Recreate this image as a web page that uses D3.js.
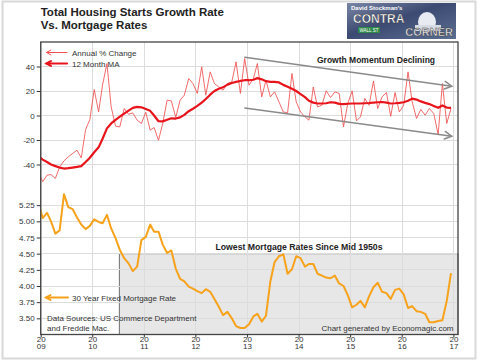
<!DOCTYPE html>
<html>
<head>
<meta charset="utf-8">
<script src="https://cdnjs.cloudflare.com/ajax/libs/d3/7.8.5/d3.min.js"></script>
<style>
body { margin: 0; background: #fff; }
svg { display: block; font-family: "Liberation Sans", Arial, sans-serif; }
.grid line { stroke: #dcdcdc; stroke-width: 1; shape-rendering: crispEdges; }
.axis text { font-size: 8px; fill: #333; }
.axis path { display: none; }
.axis line { stroke: #333; }
.note { font-size: 8px; fill: #333; }
</style>
</head>
<body>
<div class="chart"></div>
<script>
// Monthly series, Dec 2008 .. Dec 2016 (first point sits just left of the axis)
var housing_pct = [-46,
    -54, -48.7, -48.2, -51.4, -42, -37, -33.8, -31, -28.3, -34.6, -11.4, -3.3,
    21.2, 2.9, 25, 42.4, 7, -8.7, -9.3, 5.7, 1, 2.1, -3.8, -6.5,
    2.7, -12, -9.8, -20.2, -6.5, 12.5, 11.9, -1.6, 12.5, 16.6, 30.2, 26.1,
    18, 39.7, 16.6, 35.6, 26.1, 23.3, 20.7, 26.1, 27.4, 43.8, 18, 46.5,
    24.7, 30.2, 42.4, 15.2, 28.8, 15.2, 19.3, 11.1, 2.9, 2.1, 34.3, 11.1,
    2.9, -1.1, -3.8, 23.3, 7, 8.4, 20.1, 14.7, 19.3, 18, -9.3, 9.8,
    20.1, -4.4, -1.1, 13.9, 8.4, 28.2, 5.7, 15.2, 18.8, -0.6, 18.8, 2.9,
    8.4, 35.6, 11.1, -2.4, 4.9, 0.2, 5.7, 1.6, -15.5, 26.1, -6.5, 5.7];

var housing_ma = [-33.2,
    -36, -38, -40, -41.3, -42.5, -43.3, -43, -42.5, -42, -41.3, -38, -34.5,
    -30, -26, -19, -10.5, -6.5, -3.5, -1, 1.5, 4, 6.2, 7, 6.7,
    5.3, 3.8, 0, -4.7, -4.8, -3.5, -2.3, -2.5, -1.5, 0.5, 3.5, 5.5,
    7.8, 10.5, 13.5, 17, 20, 21.8, 23, 25.2, 26.5, 27.4, 28.2, 28.8,
    28.8, 29.2, 30.5, 29.5, 28, 27.5, 27.4, 27, 25, 23.5, 21.8, 20,
    17.5, 15, 12, 10.5, 9.8, 9.8, 10, 10.8, 10.5, 9.5, 9.3, 9.6,
    9.8, 9.8, 9.8, 10, 10.2, 10.5, 10.8, 11, 10.5, 9.8, 10, 10.3,
    10.8, 12, 13.8, 13, 11.5, 10.3, 9.3, 7.8, 6.3, 8.2, 6.5, 6.2];

var mortgage_rate = [5.29,
    5.05, 5.13, 5.00, 4.81, 4.86, 5.42, 5.22, 5.19, 5.06, 4.95, 4.88, 4.93,
    5.03, 4.99, 4.97, 5.10, 4.89, 4.74, 4.56, 4.43, 4.35, 4.23, 4.30, 4.71,
    4.76, 4.95, 4.84, 4.84, 4.64, 4.51, 4.55, 4.27, 4.11, 4.07, 3.99, 3.96,
    3.92, 3.89, 3.95, 3.91, 3.80, 3.68, 3.55, 3.60, 3.50, 3.38, 3.35, 3.35,
    3.41, 3.53, 3.57, 3.45, 3.54, 4.07, 4.37, 4.46, 4.49, 4.19, 4.26, 4.46,
    4.43, 4.30, 4.34, 4.34, 4.19, 4.16, 4.13, 4.12, 4.16, 4.04, 4.00, 3.86,
    3.67, 3.71, 3.77, 3.67, 3.84, 3.98, 4.05, 3.91, 3.89, 3.80, 3.94, 3.96,
    3.87, 3.66, 3.69, 3.61, 3.60, 3.57, 3.44, 3.44, 3.46, 3.47, 3.77, 4.20];

// Tick values
var year_ticks = [2009, 2010, 2011, 2012, 2013, 2014, 2015, 2016, 2017];
var top_ticks = [-40, -20, 0, 20, 40];
var bottom_ticks = [3.50, 3.75, 4.00, 4.25, 4.50, 4.75, 5.00, 5.25];

// Annotations (in data units)
var SHADE_START = new Date(2010, 6, 12);
var SHADE_TOP = 4.5;
var trend_lines = [
    [[new Date(2012, 11, 16), 47.6], [new Date(2016, 11, 20), 23.9]],
    [[new Date(2012, 11, 16), 6.2], [new Date(2016, 11, 20), -16.9]]
];

// Layout
var W = 480, H = 363;
var PLOT_L = 40.7, PLOT_R = 458, PLOT_T = 42, PLOT_M = 189, PLOT_B = 334.5;
var RED = "#e8141c", RED_THIN = "#f05050", ORANGE = "#f7a21b", TREND = "#8a8a8a";

// Month i of the series is plotted mid-month
var dates = mortgage_rate.map(function (d, i) { return new Date(2008, 11 + i, 15); });

var x = d3.scaleTime()
        .domain([new Date(2009, 0, 1), new Date(2017, 0, 1)])
        .range([PLOT_L, 453.4]);
var y_top = d3.scaleLinear().domain([-60, 60]).range([PLOT_M, PLOT_T]);
var y_bot = d3.scaleLinear().domain([3.25, 5.5]).range([PLOT_B, PLOT_M]);

var svg = d3.select(".chart").append("svg")
        .attr("width", W)
        .attr("height", H);

// Outer frame
svg.append("rect").attr("x", 2.5).attr("y", 1.5)
        .attr("width", 473).attr("height", 357)
        .attr("fill", "none").attr("stroke", "#d9d9d9").attr("stroke-width", 2);

// Title
var title = svg.append("text").attr("x", PLOT_L).attr("y", 16)
        .attr("font-size", "11.5px").attr("font-weight", "bold").attr("fill", "#222");
title.append("tspan").attr("x", PLOT_L).attr("y", 16).text("Total Housing Starts Growth Rate");
title.append("tspan").attr("x", PLOT_L).attr("y", 28.5).text("Vs. Mortgage Rates");

// Logo block (top right)
var defs = svg.append("defs");
var lg = defs.append("linearGradient").attr("id", "logo_bg")
        .attr("x1", 0).attr("y1", 0).attr("x2", 1).attr("y2", 1);
lg.append("stop").attr("offset", "0%").attr("stop-color", "#7b87a6");
lg.append("stop").attr("offset", "45%").attr("stop-color", "#3c4a72");
lg.append("stop").attr("offset", "100%").attr("stop-color", "#5c6f92");
var logo = svg.append("g").attr("transform", "translate(347,3)");
logo.append("rect").attr("width", 109).attr("height", 36).attr("fill", "url(#logo_bg)");
logo.append("ellipse").attr("cx", 80).attr("cy", 19).attr("rx", 9).attr("ry", 10).attr("fill", "#e8ecf2");
logo.append("rect").attr("x", 68).attr("y", 22).attr("width", 26).attr("height", 6).attr("fill", "#d6dbe4");
logo.append("rect").attr("x", 11).attr("y", 24).attr("width", 22).attr("height", 6).attr("fill", "#2f8a4a");
logo.append("text").attr("x", 22).attr("y", 29).attr("text-anchor", "middle")
        .attr("font-size", "4.5px").attr("fill", "#fff").text("WALL ST");
logo.append("text").attr("x", 4).attr("y", 7).attr("font-size", "6px")
        .attr("font-weight", "bold").attr("fill", "#fff").text("David Stockman's");
logo.append("text").attr("x", 6).attr("y", 20).attr("font-size", "12px")
        .attr("font-weight", "bold").attr("fill", "#fff")
        .attr("stroke", "#333").attr("stroke-width", 0.4).text("CONTRA");
logo.append("text").attr("x", 106).attr("y", 33).attr("text-anchor", "end")
        .attr("font-size", "11px").attr("font-weight", "bold").attr("fill", "#e6e6ea")
        .attr("stroke", "#333").attr("stroke-width", 0.4).text("CORNER");

// Shaded "lowest rates" region
svg.append("rect")
        .attr("x", x(SHADE_START))
        .attr("y", y_bot(SHADE_TOP))
        .attr("width", PLOT_R - x(SHADE_START))
        .attr("height", PLOT_B - y_bot(SHADE_TOP))
        .attr("fill", "#e7e7e7")
        .attr("stroke", "#707070")
        .attr("stroke-width", 1);

// Grid lines
var grid = svg.append("g").attr("class", "grid");
grid.selectAll("line.v").data(year_ticks).enter().append("line")
        .attr("class", "v")
        .attr("x1", function (d) { return Math.round(x(new Date(d, 0, 1))) + 0.5; })
        .attr("x2", function (d) { return Math.round(x(new Date(d, 0, 1))) + 0.5; })
        .attr("y1", PLOT_T).attr("y2", PLOT_B);
grid.selectAll("line.ht").data(top_ticks).enter().append("line")
        .attr("class", "ht")
        .attr("x1", PLOT_L).attr("x2", PLOT_R)
        .attr("y1", function (d) { return y_top(d); })
        .attr("y2", function (d) { return y_top(d); });
grid.selectAll("line.hb").data(bottom_ticks).enter().append("line")
        .attr("class", "hb")
        .attr("x1", PLOT_L).attr("x2", PLOT_R)
        .attr("y1", function (d) { return y_bot(d); })
        .attr("y2", function (d) { return y_bot(d); });

// Clip series to the plot area
defs.append("clipPath").attr("id", "plot_clip").append("rect")
        .attr("x", PLOT_L).attr("y", PLOT_T)
        .attr("width", PLOT_R - PLOT_L).attr("height", PLOT_B - PLOT_T);
var plot = svg.append("g").attr("clip-path", "url(#plot_clip)");

var line_top = d3.line()
        .x(function (d, i) { return x(dates[i]); })
        .y(function (d) { return y_top(d); });
var line_bot = d3.line()
        .x(function (d, i) { return x(dates[i]); })
        .y(function (d) { return y_bot(d); });

plot.append("path").datum(housing_pct)
        .attr("d", line_top).attr("fill", "none")
        .attr("stroke", RED_THIN).attr("stroke-width", 1).attr("stroke-opacity", 0.85);
plot.append("path").datum(housing_ma)
        .attr("d", line_top).attr("fill", "none")
        .attr("stroke", RED).attr("stroke-width", 2.2).attr("stroke-linejoin", "round");
plot.append("path").datum(mortgage_rate)
        .attr("d", line_bot).attr("fill", "none")
        .attr("stroke", ORANGE).attr("stroke-width", 2).attr("stroke-linejoin", "round");

// Arrow: a line with an open chevron at (x2, y2)
function draw_arrow(x1, y1, x2, y2, color, width, head) {
    var a = Math.atan2(y2 - y1, x2 - x1);
    var g = svg.append("g").attr("stroke", color).attr("stroke-width", width)
            .attr("fill", "none").attr("stroke-linecap", "round");
    g.append("line").attr("x1", x1).attr("y1", y1).attr("x2", x2).attr("y2", y2);
    g.append("path").attr("d",
            "M" + (x2 - head * Math.cos(a - 0.5)) + "," + (y2 - head * Math.sin(a - 0.5)) +
            "L" + x2 + "," + y2 +
            "L" + (x2 - head * Math.cos(a + 0.5)) + "," + (y2 - head * Math.sin(a + 0.5)));
}

// Trend channel
trend_lines.forEach(function (t) {
    draw_arrow(x(t[0][0]), y_top(t[0][1]), x(t[1][0]), y_top(t[1][1]), TREND, 1.5, 8);
});

// Plot frame
svg.append("rect").attr("x", PLOT_L).attr("y", PLOT_T)
        .attr("width", PLOT_R - PLOT_L).attr("height", PLOT_B - PLOT_T)
        .attr("fill", "none").attr("stroke", "#444").attr("stroke-width", 1.3);

// Axes
svg.append("g").attr("class", "axis")
        .attr("transform", "translate(" + PLOT_L + ",0)")
        .call(d3.axisLeft(y_top).tickValues(top_ticks).tickSize(4).tickPadding(2)
                .tickFormat(function (d) { return String(d); }));
svg.append("g").attr("class", "axis")
        .attr("transform", "translate(" + PLOT_L + ",0)")
        .call(d3.axisLeft(y_bot).tickValues(bottom_ticks).tickSize(4).tickPadding(2)
                .tickFormat(d3.format(".2f")));
var x_axis = svg.append("g").attr("class", "axis")
        .attr("transform", "translate(0," + PLOT_B + ")")
        .call(d3.axisBottom(x)
                .tickValues(year_ticks.map(function (d) { return new Date(d, 0, 1); }))
                .tickSize(3).tickFormat(""));
// Two-line year labels: "20" over "09"
x_axis.selectAll(".tick").each(function (d) {
    var yr = String(d.getFullYear());
    var t = d3.select(this);
    t.append("text").attr("y", 7).attr("fill", "#333").attr("font-size", "7px")
            .attr("text-anchor", "middle").text(yr.slice(0, 2));
    t.append("text").attr("y", 14.5).attr("fill", "#333").attr("font-size", "7px")
            .attr("text-anchor", "middle").text(yr.slice(2));
});

// Legends
draw_arrow(67, 52.5, 46.5, 52.5, RED_THIN, 1, 5);
svg.append("text").attr("class", "note").attr("x", 72).attr("y", 55.5).text("Annual % Change");
draw_arrow(67, 63.5, 46.5, 63.5, RED, 2.2, 5);
svg.append("text").attr("class", "note").attr("x", 72).attr("y", 66.5).text("12 Month MA");
draw_arrow(68, 297.5, 46, 297.5, ORANGE, 2, 5);
svg.append("text").attr("class", "note").attr("x", 72).attr("y", 300.5).text("30 Year Fixed Mortgage Rate");

svg.append("text").attr("class", "note").attr("x", 47).attr("y", 320.5)
        .text("Data Sources: US Commerce Department");
svg.append("text").attr("class", "note").attr("x", 47).attr("y", 331)
        .text("and Freddie Mac.");
svg.append("text").attr("class", "note").attr("x", 453.5).attr("y", 331)
        .attr("text-anchor", "end").attr("fill", "#444").text("Chart generated by Economagic.com");

// Headline annotations
svg.append("text").attr("x", 376).attr("y", 63).attr("text-anchor", "middle")
        .attr("font-size", "8.5px").attr("font-weight", "bold").attr("fill", "#222")
        .text("Growth Momentum Declining");
svg.append("text").attr("x", 299).attr("y", 250).attr("text-anchor", "middle")
        .attr("font-size", "8.7px").attr("font-weight", "bold").attr("fill", "#222")
        .text("Lowest Mortgage Rates Since Mid 1950s");
</script>
</body>
</html>
